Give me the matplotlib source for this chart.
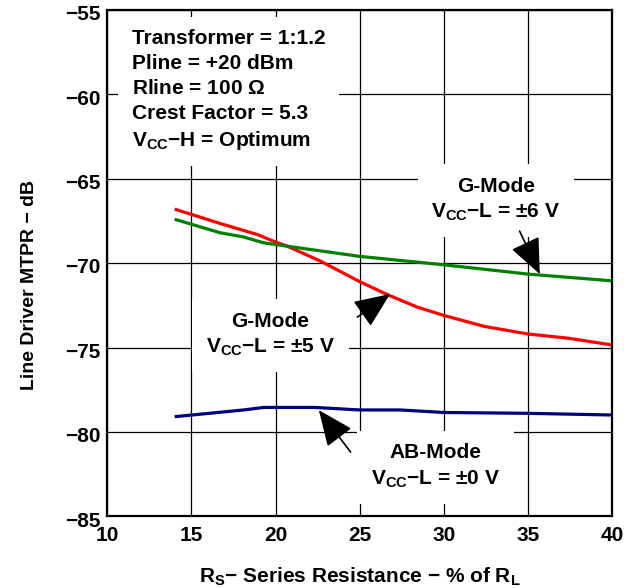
import numpy as np
import matplotlib
matplotlib.use('Agg')
import matplotlib.pyplot as plt
import matplotlib.transforms as mtransforms

plt.rcParams['font.family'] = ['Liberation Sans', 'DejaVu Sans']
plt.rcParams['font.weight'] = 'bold'
plt.rcParams['axes.labelweight'] = 'bold'
plt.rcParams['mathtext.fontset'] = 'custom'
plt.rcParams['mathtext.rm'] = 'Liberation Sans:bold'
plt.rcParams['mathtext.bf'] = 'Liberation Sans:bold'
plt.rcParams['mathtext.it'] = 'Liberation Sans:bold'

# series resistance (% of RL) vs MTPR (dB)
rs_g6 = [14, 16.7, 18.1, 19.3, 20.7, 25, 30, 35, 40]
mtpr_g6 = [-67.4, -68.2, -68.45, -68.8, -69.0, -69.6, -70.1, -70.65, -71.05]

rs_g5 = [14, 16.7, 18.9, 20, 20.7, 22.7, 25, 26.6, 28.4, 30, 32.4, 35, 37.4, 40]
mtpr_g5 = [-66.8, -67.65, -68.3, -68.75, -69.0, -69.9, -71.1, -71.85, -72.6,
           -73.1, -73.75, -74.2, -74.45, -74.85]

rs_ab = [14, 18.1, 19.3, 22.3, 25, 27.4, 30, 35, 40]
mtpr_ab = [-79.1, -78.7, -78.55, -78.55, -78.7, -78.7, -78.85, -78.9, -79.0]

xticks = [10, 15, 20, 25, 30, 35, 40]
yticks = [-85, -80, -75, -70, -65, -60, -55]

FS = 15

fig = plt.figure(figsize=(6.24, 5.88), dpi=100)
ax = fig.add_axes([0.172, 0.122, 0.809, 0.861])

ax.plot(rs_g5, mtpr_g5, color='#ff0000', lw=2.3, zorder=2, solid_capstyle='butt')
ax.plot(rs_g6, mtpr_g6, color='#008000', lw=2.3, zorder=2, solid_capstyle='butt')
ax.plot(rs_ab, mtpr_ab, color='#000080', lw=2.3, zorder=2, solid_capstyle='butt')

ax.set_xlim(10, 40)
ax.set_ylim(-85, -55)
ax.set_xticks(xticks)
ax.set_yticks(yticks)
ax.grid(True, color='black', lw=0.9, zorder=0)
ax.set_axisbelow(True)
ax.tick_params(length=0, labelsize=FS)
ax.tick_params(axis='x', pad=7)
ax.tick_params(axis='y', pad=5)
for s in ax.spines.values():
    s.set_linewidth(1.6)

# nudge y tick labels slightly below their grid lines
shift = mtransforms.ScaledTranslation(0, -2 / 72, fig.dpi_scale_trans)
for lab in ax.get_yticklabels():
    lab.set_transform(lab.get_transform() + shift)

box = dict(boxstyle='square,pad=0.65', facecolor='white', edgecolor='none')

info = ('Transformer = 1:1.2\n'
        'Pline = +20 dBm\n'
        'Rline = 100 $\\Omega$\n'
        'Crest Factor = 5.3\n'
        'V$_{\\mathrm{CC}}$\u2212H = Optimum')
ax.text(11.45, -56.1, info, ha='left', va='top', fontsize=FS,
        linespacing=1.4, bbox=box, zorder=3)

lab_kw = dict(ha='center', va='center', fontsize=FS, linespacing=1.4,
              bbox=box, zorder=3)
ax.text(33.1, -66.26, 'G-Mode\nV$_{\\mathrm{CC}}$\u2212L = \u00b16 V', **lab_kw)
ax.text(19.7, -74.26, 'G-Mode\nV$_{\\mathrm{CC}}$\u2212L = \u00b15 V', **lab_kw)
ax.text(29.5, -82.06, 'AB-Mode\nV$_{\\mathrm{CC}}$\u2212L = \u00b10 V', **lab_kw)

arrow = dict(arrowstyle='-|>,head_length=1.4,head_width=0.6',
             color='black', lw=1.2, mutation_scale=16, shrinkA=0, shrinkB=0)
ax.annotate('', xy=(35.7, -70.65), xytext=(34.5, -68.1), arrowprops=arrow, zorder=4)
ax.annotate('', xy=(26.8, -71.83), xytext=(24.86, -73.2), arrowprops=arrow, zorder=4)
ax.annotate('', xy=(22.57, -78.71), xytext=(24.46, -81.2), arrowprops=arrow, zorder=4)

ax.set_xlabel('R$_{\\mathrm{S}}$\u2212 Series Resistance \u2212 % of R$_{\\mathrm{L}}$',
              fontsize=FS, labelpad=15)
ax.set_ylabel('Line Driver MTPR \u2212 dB', fontsize=14)
ax.yaxis.set_label_coords(-0.138, 0.456)

fig.savefig('out.png', dpi=100)
